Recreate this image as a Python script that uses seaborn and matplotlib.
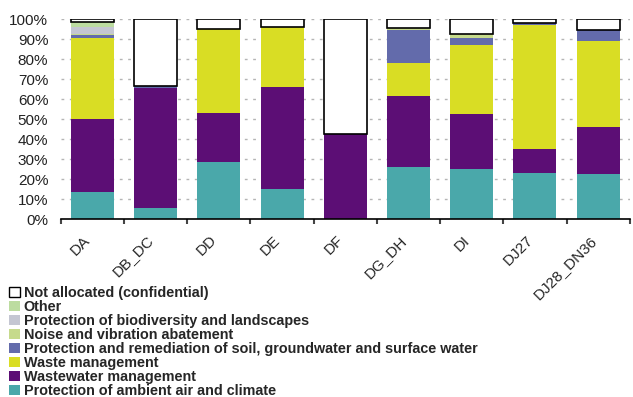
import numpy as np
import pandas as pd
import matplotlib
matplotlib.use("Agg")
import matplotlib.pyplot as plt
import matplotlib.transforms as mtransforms
import seaborn as sns
from matplotlib.patches import Patch
from matplotlib.ticker import FixedLocator, PercentFormatter

# ─────────────────────────────────────────────
# DATA (share of total, %)
# ─────────────────────────────────────────────
sectors = ["DA", "DB_DC", "DD", "DE", "DF", "DG_DH", "DI", "DJ27", "DJ28_DN36"]

air = [13.7, 5.5, 28.5, 15.0, 0.0, 26.0, 25.0, 23.0, 22.5]
wastewater = [36.3, 60.2, 24.5, 51.0, 42.8, 35.5, 27.5, 12.0, 23.5]
waste = [40.5, 0.0, 41.8, 29.8, 0.0, 16.5, 34.5, 62.0, 43.0]
soil = [1.5, 1.0, 0.0, 0.0, 0.0, 16.5, 3.5, 1.2, 5.7]
noise = [0.5, 0.0, 0.0, 0.0, 0.0, 0.8, 2.2, 0.0, 0.0]
biodiversity = [3.3, 0.0, 0.3, 0.2, 0.0, 0.0, 0.0, 0.0, 0.0]
other = [2.7, 0.0, 0.0, 0.0, 0.0, 0.0, 0.0, 0.0, 0.0]
not_allocated = [1.5, 33.3, 4.9, 4.0, 57.2, 4.7, 7.3, 1.8, 5.3]

series = [
    ("Protection of ambient air and climate", air, "#4aa8aa"),
    ("Wastewater management", wastewater, "#5c0e75"),
    ("Waste management", waste, "#d9dd24"),
    ("Protection and remediation of soil, groundwater and surface water", soil, "#636bab"),
    ("Noise and vibration abatement", noise, "#c6da8c"),
    ("Protection of biodiversity and landscapes", biodiversity, "#c4c6d2"),
    ("Other", other, "#bcdca0"),
    ("Not allocated (confidential)", not_allocated, "white"),
]

# ─────────────────────────────────────────────
# PLOT
# ─────────────────────────────────────────────
sns.set_style("white")
plt.rcParams["font.family"] = ["Liberation Sans", "DejaVu Sans"]

fig = plt.figure(figsize=(6.33, 3.97), dpi=100)
ax = fig.add_axes([0.096, 0.448, 0.899, 0.504])

bottom = np.zeros(len(sectors))
for name, vals, color in series:
    df = pd.DataFrame({"sector": sectors, "value": vals})
    is_na = name.startswith("Not allocated")
    sns.barplot(data=df, x="sector", y="value", order=sectors, color=color,
                saturation=1, width=0.68, bottom=bottom, ax=ax,
                edgecolor="black" if is_na else "none",
                linewidth=1.2 if is_na else 0)
    bottom = bottom + np.array(vals)

ax.set_xlim(-0.5, len(sectors) - 0.5)
ax.set_ylim(0, 100)
ax.set_xlabel("")
ax.set_ylabel("")

# y axis: percent, dotted grid (horizontal only)
ax.yaxis.set_major_locator(FixedLocator(np.arange(0, 101, 10)))
ax.yaxis.set_major_formatter(PercentFormatter(decimals=0))
ax.yaxis.grid(True, color="#b5b5b5", linestyle=(0, (2, 4)), linewidth=1)
ax.xaxis.grid(False)
ax.set_axisbelow(True)
ax.tick_params(axis="y", length=0, labelsize=11, pad=9, labelcolor="#222222")

# x axis: rotated labels under bars
ax.set_xticks(range(len(sectors)))
ax.set_xticklabels(sectors, rotation=45, ha="right", rotation_mode="anchor")
ax.tick_params(axis="x", which="major", length=0, labelsize=11, pad=10)
shift = mtransforms.ScaledTranslation(-9 / 100, 0, fig.dpi_scale_trans)
for lbl in ax.get_xticklabels():
    lbl.set_transform(lbl.get_transform() + shift)

# short tick marks at category boundaries
ax.vlines(np.arange(-0.5, len(sectors), 1), -0.025, 0,
          transform=ax.get_xaxis_transform(), clip_on=False,
          color="#444444", linewidth=1.5)

for side in ["left", "right", "top"]:
    ax.spines[side].set_visible(False)
ax.spines["bottom"].set_color("black")
ax.spines["bottom"].set_linewidth(1.2)

# legend below, reversed order
handles = [Patch(facecolor=c, edgecolor="black" if n.startswith("Not") else c,
                 linewidth=1 if n.startswith("Not") else 0, label=n)
           for n, v, c in reversed(series)]
fig.legend(handles=handles, loc="upper left", bbox_to_anchor=(0.015, 0.279),
           frameon=False, prop={"weight": "bold", "size": 10.35},
           handlelength=0.75, handleheight=0.75, handletextpad=0.25,
           labelspacing=0.0, borderpad=0, borderaxespad=0)

fig.savefig("out.png", dpi=100)
plt.close(fig)
